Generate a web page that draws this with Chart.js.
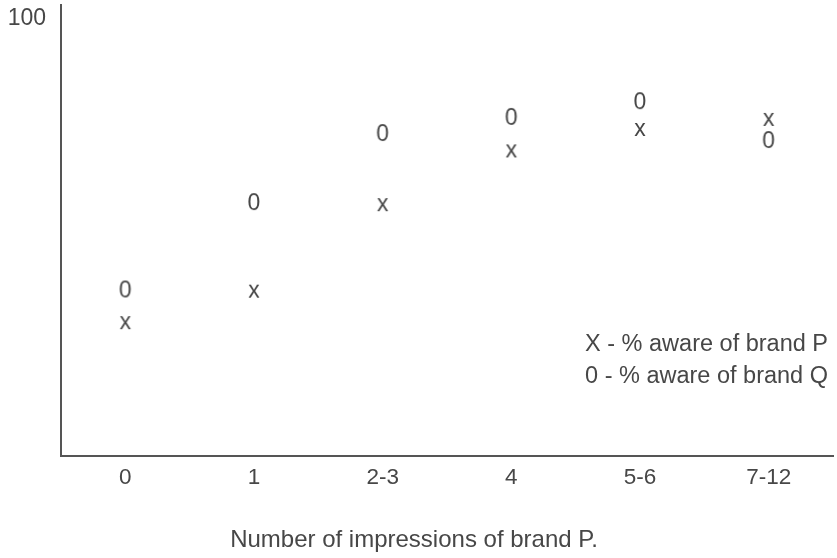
<!DOCTYPE html>
<html>
<head>
<meta charset="utf-8">
<script src="https://cdn.jsdelivr.net/npm/chart.js@4/dist/chart.umd.min.js"></script>
<style>
  html, body { margin: 0; padding: 0; background: #fff; }
  #wrap { width: 837px; height: 558px; }
</style>
</head>
<body>
<div id="wrap"><canvas id="chart"></canvas></div>
<script>
// categories along the bottom
const impressions = ['0', '1', '2-3', '4', '5-6', '7-12'];
// % aware
const awareP = [30.4, 37.6, 57.4, 69.7, 74.6, 76.9];   // drawn as "x"
const awareQ = [38.1, 58.1, 73.9, 77.6, 81.2, 72.3];   // drawn as "0"
const yTicks = [100];
const legendLines = ['X - % aware of brand P', '0 - % aware of brand Q'];
const xTitle = 'Number of impressions of brand P.';

const ink = '#474747';
const fontFam = '"Liberation Sans", Arial, sans-serif';

// the markers are just typed characters, so make little canvases with the glyph on it
function glyph(ch, size, capRatio) {
  const c = document.createElement('canvas');
  c.width = 28; c.height = 28;
  const g = c.getContext('2d');
  g.fillStyle = ink;
  g.font = size + 'px ' + fontFam;
  g.textAlign = 'center';
  g.textBaseline = 'alphabetic';
  g.fillText(ch, 14, 14 + size * capRatio / 2);
  return c;
}
const xMark = glyph('x', 23, 0.52);
const oMark = glyph('0', 23, 0.716);

const textBits = {
  id: 'textBits',
  afterDraw(chart) {
    const ctx = chart.ctx;
    ctx.save();
    ctx.fillStyle = ink;
    ctx.font = '23.5px ' + fontFam;
    ctx.textAlign = 'right';
    ctx.textBaseline = 'middle';
    ctx.fillText(legendLines[0], 828, 345);
    ctx.fillText(legendLines[1], 828, 377);
    ctx.textAlign = 'center';
    ctx.font = '24px ' + fontFam;
    ctx.fillText(xTitle, 414, 540);
    ctx.restore();
  }
};

new Chart(document.getElementById('chart'), {
  type: 'line',
  data: {
    labels: impressions,
    datasets: [{
      label: 'P',
      data: awareP,
      showLine: false,
      pointStyle: xMark,
      pointRadius: 1,
      borderWidth: 0
    }, {
      label: 'Q',
      data: awareQ,
      showLine: false,
      pointStyle: oMark,
      pointRadius: 1,
      borderWidth: 0
    }]
  },
  options: {
    responsive: true,
    maintainAspectRatio: false,
    animation: false,
    layout: { padding: { top: 5, right: 3, bottom: 0, left: 0 } },
    plugins: { legend: { display: false }, tooltip: { enabled: false } },
    scales: {
      x: {
        offset: true,
        grid: { display: false, drawTicks: false },
        border: { display: true, color: '#555', width: 2 },
        ticks: { color: ink, font: { family: fontFam, size: 22.5 }, padding: 8 },
        afterFit(s) { s.height = 102; s.paddingLeft = 0; s.paddingRight = 0; }
      },
      y: {
        min: 0,
        max: 103.2,
        grid: { display: false, drawTicks: false },
        border: { display: true, color: '#555', width: 2 },
        afterBuildTicks(s) { s.ticks = yTicks.map(v => ({ value: v })); },
        ticks: { color: ink, font: { family: fontFam, size: 23 }, padding: 15 },
        afterFit(s) { s.width = 61; s.paddingTop = 0; s.paddingBottom = 0; }
      }
    }
  },
  plugins: [textBits]
});
</script>
</body>
</html>
